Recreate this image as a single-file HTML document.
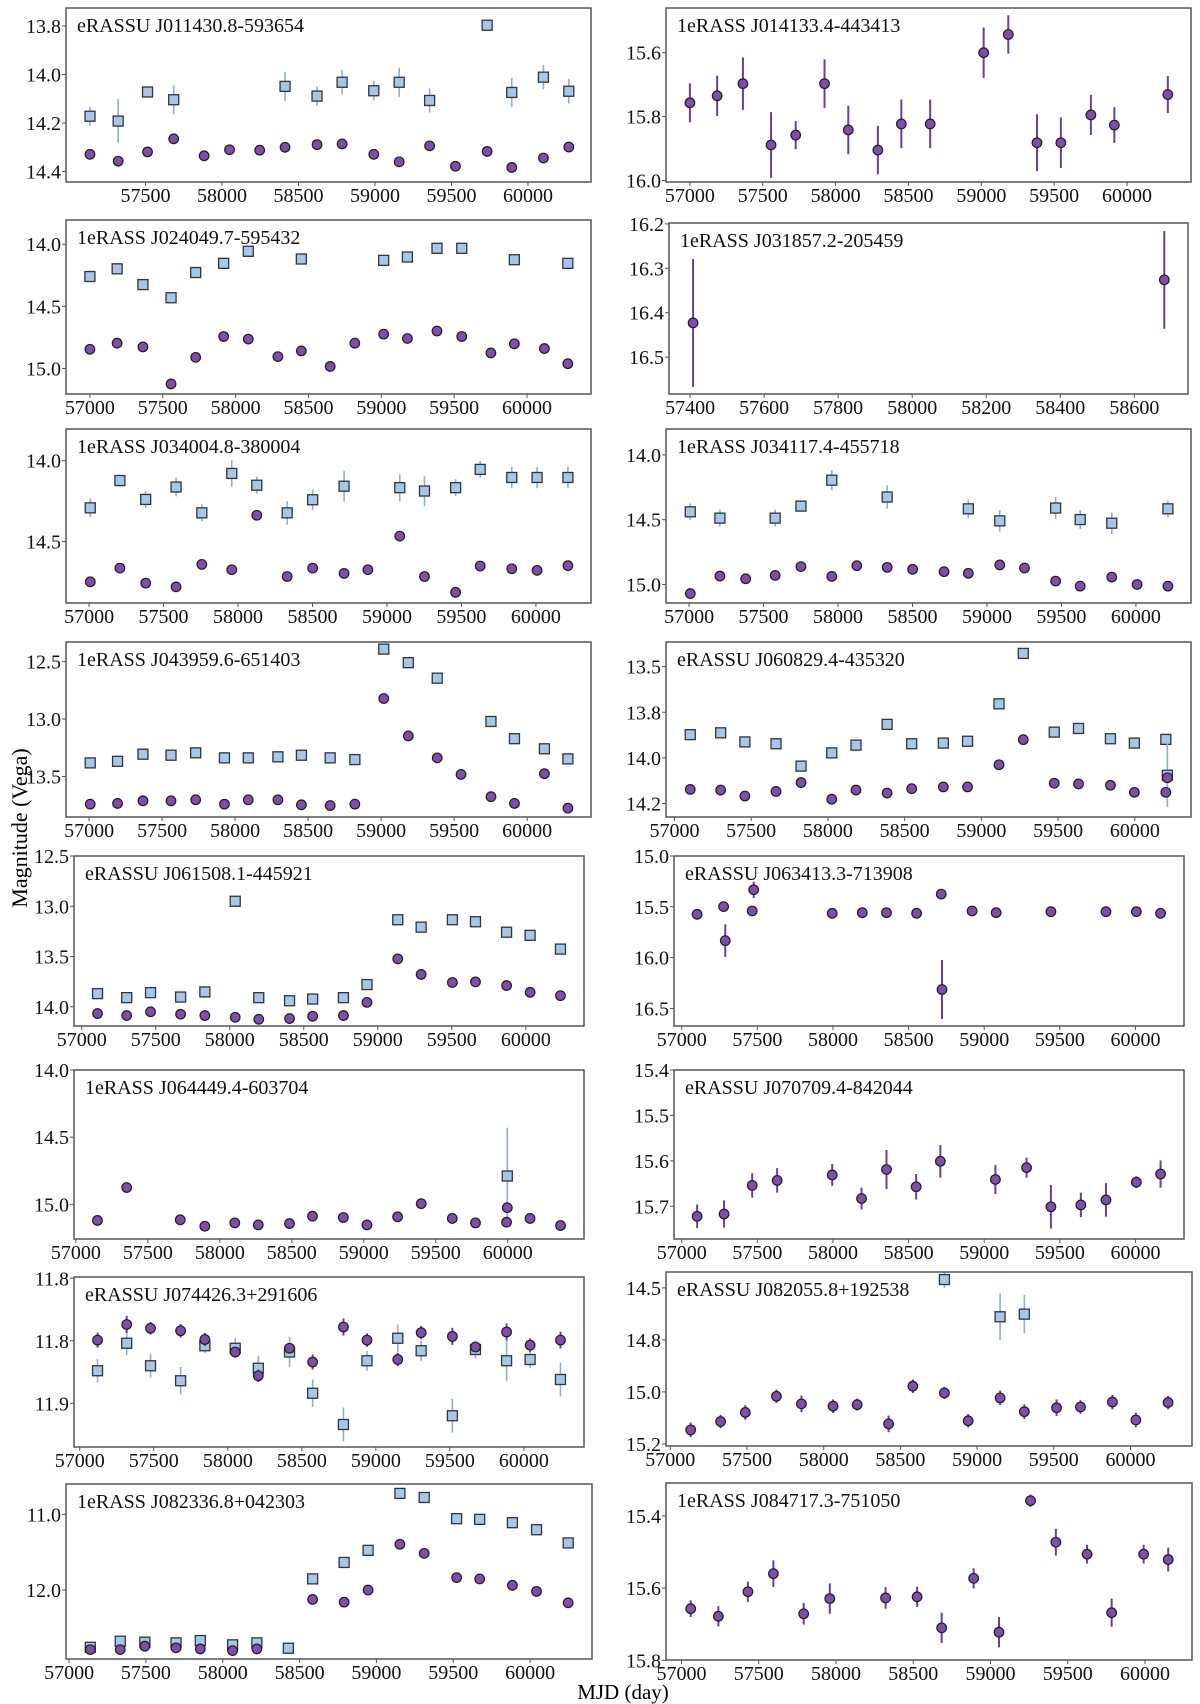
<!DOCTYPE html>
<html><head><meta charset="utf-8">
<style>
html,body{margin:0;padding:0;background:#fff;}
svg{display:block;font-family:"Liberation Serif",serif;}
</style></head>
<body>
<svg id="fig" width="1200" height="1704" viewBox="0 0 1200 1704" xmlns="http://www.w3.org/2000/svg">
<text x="623" y="1699" font-size="21" text-anchor="middle">MJD (day)</text>
<text x="0" y="0" font-size="22" text-anchor="middle" transform="translate(27,828) rotate(-90)">Magnitude (Vega)</text>
</svg>
<script>
// ---- Panel 1 L
const p1_title="eRASSU J011430.8-593654";
const p1_cx=[57137,57321,57513,57684,57883,58049,58246,58412,58621,58785,58992,59158,59357,59526,59733,59894,60101,60267];
const p1_cy=[14.329,14.357,14.319,14.265,14.335,14.310,14.312,14.300,14.289,14.286,14.329,14.360,14.294,14.378,14.317,14.383,14.344,14.299];
const p1_ce=[0.012,0.02,0.012,0.018,0.012,0.012,0.012,0.012,0.012,0.015,0.012,0.015,0.012,0.018,0.012,0.015,0.012,0.015];
const p1_sx=[57137,57321,57513,57684,58412,58621,58785,58992,59158,59357,59733,59894,60101,60267];
const p1_sy=[14.172,14.192,14.072,14.104,14.049,14.089,14.032,14.067,14.032,14.107,13.797,14.074,14.011,14.069];
const p1_se=[0.04,0.09,0.02,0.06,0.06,0.04,0.05,0.04,0.06,0.05,0.02,0.06,0.05,0.05];
const p1_xt=[57500,58000,58500,59000,59500,60000];
const p1_yt=[13.8,14.0,14.2,14.4];
const p1_yl=["13.8","14.0","14.2","14.4"];
// ---- Panel 2 L
const p2_title="1eRASS J024049.7-595432";
const p2_cx=[57000,57187,57364,57557,57726,57918,58087,58290,58451,58649,58818,59016,59179,59382,59552,59752,59913,60119,60280];
const p2_cy=[14.846,14.797,14.827,15.125,14.911,14.743,14.764,14.905,14.859,14.984,14.797,14.724,14.759,14.699,14.743,14.875,14.802,14.840,14.962];
const p2_ce=[0.01,0.01,0.01,0.01,0.01,0.01,0.01,0.01,0.01,0.01,0.01,0.01,0.01,0.01,0.01,0.01,0.01,0.01,0.01];
const p2_sx=[57000,57187,57364,57557,57726,57918,58087,58451,59016,59179,59382,59552,59913,60280];
const p2_sy=[14.260,14.198,14.325,14.431,14.228,14.154,14.057,14.119,14.130,14.103,14.033,14.033,14.125,14.154];
const p2_se=[0.01,0.01,0.01,0.03,0.01,0.01,0.01,0.01,0.01,0.01,0.01,0.01,0.01,0.01];
const p2_xt=[57000,57500,58000,58500,59000,59500,60000];
const p2_yt=[14.0,14.5,15.0];
const p2_yl=["14.0","14.5","15.0"];
// ---- Panel 1 R
const p3_title="1eRASS J014133.4-443413";
const p3_cx=[57000,57187,57364,57557,57726,57924,58087,58290,58451,58649,59016,59185,59382,59546,59752,59913,60280];
const p3_cy=[15.757,15.735,15.697,15.889,15.858,15.697,15.842,15.905,15.823,15.823,15.6,15.543,15.882,15.882,15.795,15.827,15.731];
const p3_ce=[0.061,0.063,0.082,0.103,0.044,0.076,0.076,0.076,0.076,0.076,0.079,0.060,0.089,0.079,0.063,0.056,0.058];
const p3_sx=[],p3_sy=[],p3_se=[];
const p3_xt=[57000,57500,58000,58500,59000,59500,60000];
const p3_yt=[15.6,15.8,16.0];
const p3_yl=["15.6","15.8","16.0"];
// ---- Panel 2 R
const p4_title="1eRASS J031857.2-205459";
const p4_cx=[57408,58681];
const p4_cy=[16.423,16.326];
const p4_ce=[0.144,0.110];
const p4_sx=[],p4_sy=[],p4_se=[];
const p4_xt=[57400,57600,57800,58000,58200,58400,58600];
const p4_yt=[16.2,16.3,16.4,16.5];
const p4_yl=["16.2","16.3","16.4","16.5"];
// ---- Panel 3 L
const p5_title="1eRASS J034004.8-380004";
const p5_cx=[57008,57207,57380,57584,57757,57958,58126,58330,58501,58712,58872,59086,59252,59461,59626,59838,60008,60215];
const p5_cy=[14.750,14.665,14.758,14.781,14.642,14.675,14.338,14.717,14.665,14.698,14.675,14.467,14.717,14.815,14.652,14.669,14.679,14.650];
const p5_ce=[0.012,0.012,0.012,0.012,0.012,0.015,0.012,0.012,0.015,0.02,0.015,0.012,0.025,0.012,0.012,0.012,0.015,0.015];
const p5_sx=[57008,57207,57380,57584,57757,57958,58126,58330,58501,58712,59086,59252,59461,59626,59838,60008,60215];
const p5_sy=[14.292,14.123,14.240,14.163,14.323,14.079,14.152,14.323,14.242,14.158,14.167,14.188,14.167,14.054,14.104,14.104,14.104];
const p5_se=[0.058,0.038,0.052,0.058,0.052,0.083,0.052,0.073,0.063,0.094,0.083,0.094,0.052,0.052,0.067,0.067,0.067];
const p5_xt=[57000,57500,58000,58500,59000,59500,60000];
const p5_yt=[14.0,14.5];
const p5_yl=["14.0","14.5"];
// ---- Panel 4 L
const p6_title="1eRASS J043959.6-651403";
const p6_cx=[57008,57195,57369,57561,57730,57927,58090,58293,58454,58651,58820,59018,59186,59384,59547,59752,59913,60118,60279];
const p6_cy=[13.741,13.735,13.712,13.712,13.703,13.741,13.703,13.703,13.747,13.753,13.741,12.821,13.147,13.338,13.482,13.676,13.735,13.476,13.776];
const p6_ce=[0.01,0.01,0.01,0.01,0.01,0.01,0.01,0.01,0.01,0.01,0.01,0.01,0.01,0.01,0.01,0.01,0.01,0.01,0.01];
const p6_sx=[57008,57195,57369,57561,57730,57927,58090,58293,58454,58651,58820,59018,59186,59384,59752,59913,60118,60279];
const p6_sy=[13.382,13.368,13.306,13.315,13.294,13.338,13.338,13.329,13.315,13.338,13.353,12.391,12.509,12.644,13.021,13.171,13.259,13.347];
const p6_se=[0.01,0.01,0.01,0.01,0.01,0.01,0.01,0.01,0.01,0.01,0.01,0.01,0.01,0.01,0.01,0.01,0.01,0.01];
const p6_xt=[57000,57500,58000,58500,59000,59500,60000];
const p6_yt=[12.5,13.0,13.5];
const p6_yl=["12.5","13.0","13.5"];
// ---- Panel 3 R
const p7_title="1eRASS J034117.4-455718";
const p7_cx=[57008,57207,57380,57578,57751,57958,58126,58330,58501,58712,58875,59086,59252,59461,59626,59838,60008,60215];
const p7_cy=[15.070,14.935,14.956,14.930,14.862,14.938,14.855,14.868,14.883,14.901,14.914,14.849,14.873,14.974,15.013,14.943,15.000,15.013];
const p7_ce=[0.012,0.012,0.012,0.012,0.012,0.012,0.012,0.02,0.012,0.012,0.015,0.015,0.012,0.025,0.012,0.012,0.012,0.012];
const p7_sx=[57008,57207,57578,57751,57958,58330,58875,59086,59461,59626,59838,60215];
const p7_sy=[14.439,14.488,14.488,14.395,14.195,14.325,14.416,14.509,14.410,14.499,14.527,14.416];
const p7_se=[0.065,0.065,0.065,0.04,0.078,0.09,0.073,0.083,0.086,0.073,0.083,0.065];
const p7_xt=[57000,57500,58000,58500,59000,59500,60000];
const p7_yt=[14.0,14.5,15.0];
const p7_yl=["14.0","14.5","15.0"];
// ---- Panel 4 R
const p8_title="eRASSU J060829.4-435320";
const p8_cx=[57103,57301,57459,57662,57825,58025,58183,58386,58546,58752,58910,59115,59273,59475,59633,59841,59997,60202,60212];
const p8_cy=[14.138,14.141,14.167,14.147,14.108,14.181,14.141,14.154,14.135,14.127,14.127,14.030,13.920,14.111,14.114,14.120,14.151,14.151,14.087];
const p8_ce=[0.01,0.01,0.01,0.01,0.012,0.01,0.01,0.01,0.01,0.01,0.01,0.01,0.01,0.01,0.01,0.01,0.01,0.01,0.01];
const p8_sx=[57103,57301,57459,57662,57825,58025,58183,58386,58546,58752,58910,59115,59273,59475,59633,59841,59997,60202,60212];
const p8_sy=[13.898,13.890,13.930,13.938,14.036,13.978,13.944,13.853,13.938,13.935,13.927,13.763,13.542,13.887,13.871,13.916,13.935,13.919,14.076];
const p8_se=[0.012,0.012,0.012,0.012,0.015,0.012,0.012,0.012,0.012,0.02,0.015,0.012,0.012,0.015,0.015,0.015,0.012,0.015,0.14];
const p8_xt=[57000,57500,58000,58500,59000,59500,60000];
const p8_yt=[13.6,13.8,14.0,14.2];
const p8_yl=["13.5","13.8","14.0","14.2"];
// ---- Panel 5 L
const p9_title="eRASSU J061508.1-445921";
const p9_cx=[57107,57304,57465,57668,57832,58037,58196,58404,58560,58768,58927,59135,59293,59504,59660,59870,60029,60234];
const p9_cy=[14.067,14.087,14.050,14.074,14.087,14.104,14.124,14.117,14.094,14.087,13.956,13.523,13.678,13.758,13.752,13.789,13.856,13.889];
const p9_ce=[0.01,0.01,0.01,0.01,0.01,0.01,0.01,0.01,0.01,0.01,0.01,0.01,0.01,0.01,0.01,0.01,0.01,0.01];
const p9_sx=[57107,57304,57465,57668,57832,58037,58196,58404,58560,58768,58927,59135,59293,59504,59660,59870,60029,60234];
const p9_sy=[13.869,13.909,13.859,13.903,13.852,12.950,13.909,13.940,13.923,13.909,13.779,13.134,13.208,13.134,13.154,13.258,13.289,13.426];
const p9_se=[0.01,0.01,0.01,0.01,0.01,0.01,0.01,0.01,0.01,0.01,0.01,0.01,0.01,0.01,0.01,0.01,0.01,0.01];
const p9_xt=[57000,57500,58000,58500,59000,59500,60000];
const p9_yt=[12.5,13.0,13.5,14.0];
const p9_yl=["12.5","13.0","13.5","14.0"];
// ---- Panel 6 L
const p10_title="1eRASS J064449.4-603704";
const p10_cx=[57150,57353,57725,57896,58104,58267,58484,58644,58858,59022,59235,59399,59615,59776,59992,59997,60155,60367];
const p10_cy=[15.120,14.875,15.115,15.163,15.138,15.153,15.143,15.088,15.098,15.153,15.093,14.995,15.105,15.138,15.133,15.025,15.105,15.158];
const p10_ce=[0.01,0.01,0.01,0.01,0.01,0.01,0.01,0.01,0.01,0.01,0.01,0.01,0.01,0.01,0.01,0.01,0.01,0.01];
const p10_sx=[59997];
const p10_sy=[14.789];
const p10_se=[0.36];
const p10_xt=[57000,57500,58000,58500,59000,59500,60000];
const p10_yt=[14.0,14.5,15.0];
const p10_yl=["14.0","14.5","15.0"];
// ---- Panel 5 R
const p11_title="eRASSU J063413.3-713908";
const p11_cx=[57102,57277,57288,57476,57466,57995,58194,58354,58553,58716,58721,58920,59079,59441,59805,60006,60166];
const p11_cy=[15.574,15.498,15.833,15.332,15.541,15.564,15.558,15.558,15.564,15.375,16.314,15.541,15.558,15.548,15.548,15.548,15.564];
const p11_ce=[0.03,0.03,0.16,0.08,0.03,0.03,0.03,0.03,0.03,0.04,0.29,0.03,0.03,0.03,0.03,0.03,0.03];
const p11_sx=[],p11_sy=[],p11_se=[];
const p11_xt=[57000,57500,58000,58500,59000,59500,60000];
const p11_yt=[15.0,15.5,16.0,16.5];
const p11_yl=["15.0","15.5","16.0","16.5"];
// ---- Panel 6 R
const p12_title="eRASSU J070709.4-842044";
const p12_cx=[57102,57280,57466,57631,57995,58189,58354,58550,58710,59074,59280,59441,59639,59805,60006,60166];
const p12_cy=[15.722,15.717,15.654,15.643,15.631,15.683,15.619,15.657,15.601,15.641,15.615,15.701,15.697,15.686,15.647,15.629];
const p12_ce=[0.026,0.030,0.027,0.027,0.024,0.024,0.043,0.028,0.036,0.032,0.022,0.048,0.027,0.037,0.013,0.030];
const p12_sx=[],p12_sy=[],p12_se=[];
const p12_xt=[57000,57500,58000,58500,59000,59500,60000];
const p12_yt=[15.4,15.5,15.6,15.7];
const p12_yl=["15.4","15.5","15.6","15.7"];
// ---- Panel 7 L
const p13_title="eRASSU J074426.3+291606";
const p13_cx=[57120,57317,57478,57681,57845,58050,58206,58417,58573,58781,58940,59148,59306,59517,59673,59883,60042,60247];
const p13_cy=[11.7995,11.787,11.790,11.792,11.799,11.809,11.828,11.806,11.817,11.789,11.7995,11.815,11.7935,11.7965,11.805,11.793,11.8035,11.7995];
const p13_ce=[0.006,0.0068,0.005,0.0054,0.0054,0.0027,0.005,0.004,0.006,0.0068,0.0054,0.0054,0.0054,0.0068,0.0027,0.0068,0.0054,0.0068];
const p13_sx=[57120,57317,57478,57681,57845,58050,58206,58417,58573,58781,58940,59148,59306,59517,59673,59883,60042,60247];
const p13_sy=[11.824,11.802,11.820,11.832,11.804,11.806,11.822,11.809,11.842,11.867,11.816,11.798,11.808,11.860,11.807,11.816,11.815,11.831];
const p13_se=[0.0095,0.0095,0.0095,0.011,0.006,0.008,0.010,0.012,0.011,0.0135,0.008,0.011,0.008,0.0135,0.007,0.016,0.007,0.0135];
const p13_xt=[57000,57500,58000,58500,59000,59500,60000];
const p13_yt=[11.75,11.80,11.85];
const p13_yl=["11.8","11.8","11.9"];
// ---- Panel 8 L
const p14_title="1eRASS J082336.8+042303";
const p14_cx=[57138,57333,57493,57696,57854,58064,58222,58585,58790,58946,59153,59311,59522,59672,59885,60042,60248];
const p14_cy=[12.787,12.787,12.742,12.764,12.778,12.8,12.778,12.124,12.160,12.0,11.396,11.516,11.836,11.853,11.938,12.018,12.169];
const p14_ce=[0.01,0.01,0.01,0.01,0.01,0.01,0.01,0.01,0.01,0.01,0.01,0.01,0.01,0.01,0.01,0.01,0.01];
const p14_sx=[57138,57333,57493,57696,57854,58064,58222,58427,58585,58790,58946,59153,59311,59522,59672,59885,60042,60248];
const p14_sy=[12.756,12.676,12.689,12.698,12.667,12.724,12.698,12.769,11.853,11.636,11.476,10.724,10.778,11.058,11.067,11.111,11.204,11.378];
const p14_se=[0.01,0.01,0.01,0.01,0.01,0.01,0.01,0.01,0.01,0.01,0.01,0.01,0.01,0.01,0.01,0.01,0.01,0.01];
const p14_xt=[57000,57500,58000,58500,59000,59500,60000];
const p14_yt=[11.0,12.0];
const p14_yl=["11.0","12.0"];
// ---- Panel 7 R
const p15_title="eRASSU J082055.8+192538";
const p15_cx=[57133,57328,57489,57692,57855,58061,58218,58423,58581,58787,58942,59150,59308,59518,59674,59882,60035,60245];
const p15_cy=[15.146,15.114,15.079,15.017,15.046,15.055,15.049,15.123,14.978,15.004,15.111,15.023,15.076,15.061,15.058,15.039,15.108,15.041];
const p15_ce=[0.028,0.026,0.028,0.026,0.032,0.026,0.023,0.032,0.026,0.023,0.026,0.028,0.028,0.032,0.026,0.028,0.028,0.026];
const p15_sx=[58787,59150,59308];
const p15_sy=[14.568,14.711,14.701];
const p15_se=[0.032,0.090,0.074];
const p15_xt=[57000,57500,58000,58500,59000,59500,60000];
const p15_yt=[14.6,14.8,15.0,15.2];
const p15_yl=["14.5","14.8","15.0","15.2"];
// ---- Panel 8 R
const p16_title="1eRASS J084717.3-751050";
const p16_cx=[57060,57239,57430,57595,57791,57960,58321,58525,58684,58891,59055,59259,59423,59625,59784,59991,60150];
const p16_cy=[15.657,15.678,15.610,15.560,15.671,15.629,15.627,15.624,15.710,15.573,15.722,15.358,15.473,15.506,15.668,15.506,15.521];
const p16_ce=[0.023,0.028,0.028,0.037,0.030,0.042,0.030,0.028,0.042,0.028,0.042,0.017,0.037,0.026,0.039,0.026,0.033];
const p16_sx=[],p16_sy=[],p16_se=[];
const p16_xt=[57000,57500,58000,58500,59000,59500,60000];
const p16_yt=[15.4,15.6,15.8];
const p16_yl=["15.4","15.6","15.8"];

const panels=[
 {b:[66,8,591,182],xr:[56980,60412],yr:[13.726,14.443],t:p1_title,cx:p1_cx,cy:p1_cy,ce:p1_ce,sx:p1_sx,sy:p1_sy,se:p1_se,xt:p1_xt,yt:p1_yt,yl:p1_yl},
 {b:[666,8,1191,182],xr:[56836,60439],yr:[15.46,16.005],t:p3_title,cx:p3_cx,cy:p3_cy,ce:p3_ce,sx:p3_sx,sy:p3_sy,se:p3_se,xt:p3_xt,yt:p3_yt,yl:p3_yl},
 {b:[66,220,591,394],xr:[56836,60439],yr:[13.805,15.206],t:p2_title,cx:p2_cx,cy:p2_cy,ce:p2_ce,sx:p2_sx,sy:p2_sy,se:p2_se,xt:p2_xt,yt:p2_yt,yl:p2_yl},
 {b:[669,223,1188,394],xr:[57343,58745],yr:[16.198,16.583],t:p4_title,cx:p4_cx,cy:p4_cy,ce:p4_ce,sx:p4_sx,sy:p4_sy,se:p4_se,xt:p4_xt,yt:p4_yt,yl:p4_yl},
 {b:[66,429,591,603],xr:[56845,60370],yr:[13.804,14.881],t:p5_title,cx:p5_cx,cy:p5_cy,ce:p5_ce,sx:p5_sx,sy:p5_sy,se:p5_se,xt:p5_xt,yt:p5_yt,yl:p5_yl},
 {b:[666,429,1191,603],xr:[56845,60370],yr:[13.80,15.143],t:p7_title,cx:p7_cx,cy:p7_cy,ce:p7_ce,sx:p7_sx,sy:p7_sy,se:p7_se,xt:p7_xt,yt:p7_yt,yl:p7_yl},
 {b:[66,642,591,817],xr:[56842,60437],yr:[12.329,13.853],t:p6_title,cx:p6_cx,cy:p6_cy,ce:p6_ce,sx:p6_sx,sy:p6_sy,se:p6_se,xt:p6_xt,yt:p6_yt,yl:p6_yl},
 {b:[666,642,1191,817],xr:[56945,60366],yr:[13.492,14.259],t:p8_title,cx:p8_cx,cy:p8_cy,ce:p8_ce,sx:p8_sx,sy:p8_sy,se:p8_se,xt:p8_xt,yt:p8_yt,yl:p8_yl},
 {b:[74,856,584,1026],xr:[56948,60393],yr:[12.5,14.191],t:p9_title,cx:p9_cx,cy:p9_cy,ce:p9_ce,sx:p9_sx,sy:p9_sy,se:p9_se,xt:p9_xt,yt:p9_yt,yl:p9_yl},
 {b:[674,856,1184,1026],xr:[56949,60321],yr:[15.0,16.673],t:p11_title,cx:p11_cx,cy:p11_cy,ce:p11_ce,sx:p11_sx,sy:p11_sy,se:p11_se,xt:p11_xt,yt:p11_yt,yl:p11_yl},
 {b:[74,1070,584,1239],xr:[56987,60530],yr:[14.0,15.258],t:p10_title,cx:p10_cx,cy:p10_cy,ce:p10_ce,sx:p10_sx,sy:p10_sy,se:p10_se,xt:p10_xt,yt:p10_yt,yl:p10_yl},
 {b:[674,1070,1184,1239],xr:[56949,60321],yr:[15.4,15.772],t:p12_title,cx:p12_cx,cy:p12_cy,ce:p12_ce,sx:p12_sx,sy:p12_sy,se:p12_se,xt:p12_xt,yt:p12_yt,yl:p12_yl},
 {b:[74,1277,584,1447],xr:[56961,60406],yr:[11.749,11.885],t:p13_title,cx:p13_cx,cy:p13_cy,ce:p13_ce,sx:p13_sx,sy:p13_sy,se:p13_se,xt:p13_xt,yt:p13_yt,yl:p13_yl},
 {b:[666,1272,1192,1446],xr:[56972,60401],yr:[14.539,15.208],t:p15_title,cx:p15_cx,cy:p15_cy,ce:p15_ce,sx:p15_sx,sy:p15_sy,se:p15_se,xt:p15_xt,yt:p15_yt,yl:p15_yl},
 {b:[66,1484,592,1659],xr:[56980,60403],yr:[10.6,12.911],t:p14_title,cx:p14_cx,cy:p14_cy,ce:p14_ce,sx:p14_sx,sy:p14_sy,se:p14_se,xt:p14_xt,yt:p14_yt,yl:p14_yl},
 {b:[666,1483,1192,1660],xr:[56900,60304],yr:[15.309,15.799],t:p16_title,cx:p16_cx,cy:p16_cy,ce:p16_ce,sx:p16_sx,sy:p16_sy,se:p16_se,xt:p16_xt,yt:p16_yt,yl:p16_yl}
];

const NS="http://www.w3.org/2000/svg";
const svg=document.getElementById('fig');
function mk(tag,attrs,parent){const e=document.createElementNS(NS,tag);for(const k in attrs)e.setAttribute(k,attrs[k]);parent.appendChild(e);return e;}

panels.forEach((p,i)=>{
  const [x0,y0,x1,y1]=p.b;
  const X=v=>x0+(v-p.xr[0])/(p.xr[1]-p.xr[0])*(x1-x0);
  const Y=v=>y0+(v-p.yr[0])/(p.yr[1]-p.yr[0])*(y1-y0);
  const g=mk('g',{},svg);
  
  
  const clipId='clip'+i;
  const cp=mk('clipPath',{id:clipId},g);
  mk('rect',{x:x0,y:y0,width:x1-x0,height:y1-y0},cp);
  p.xt.forEach(v=>{
    const x=X(v);
    const tk=mk('line',{x1:x,x2:x,y1:y1,y2:y1+4,stroke:'#555','stroke-width':1},g);
    
    
    const t=mk('text',{x:x,y:y1+20,'font-size':20,'text-anchor':'middle',fill:'#111'},g);
    
    
    t.textContent=String(v);
  });
  p.yt.forEach((v,j)=>{
    const y=Y(v);
    const tk=mk('line',{x1:x0-4,x2:x0,y1:y,y2:y,stroke:'#555','stroke-width':1},g);
    
    
    const t=mk('text',{x:x0-5,y:y+7,'font-size':20,'text-anchor':'end',fill:'#111'},g);
    
    
    t.textContent=p.yl[j];
  });
  const marks=mk('g',{'clip-path':'url(#'+clipId+')'},g);
  
  
  p.sx.forEach((v,j)=>{
    const x=X(v),y=Y(p.sy[j]),e=Math.abs(Y(p.sy[j]+p.se[j])-y);
    const l=mk('line',{x1:x,x2:x,y1:y-e,y2:y+e,stroke:'#8eaed0','stroke-width':1.6},marks);
    
    
    const r=mk('rect',{x:x-5,y:y-5,width:10,height:10,fill:'#a8c6e6',stroke:'#2e3440','stroke-width':1.3},marks);
    
    
  });
  p.cx.forEach((v,j)=>{
    const x=X(v),y=Y(p.cy[j]),e=Math.abs(Y(p.cy[j]+p.ce[j])-y);
    const l=mk('line',{x1:x,x2:x,y1:y-e,y2:y+e,stroke:'#6b3f99','stroke-width':2},marks);
    
    
    const c=mk('circle',{cx:x,cy:y,r:4.8,fill:'#7d50a8',stroke:'#24182e','stroke-width':1.2},marks);
    
    
  });
  const box=mk('rect',{x:x0,y:y0,width:x1-x0,height:y1-y0,fill:'none',stroke:'#555','stroke-width':1.5},g);
  
  
  const tt=mk('text',{x:x0+11,y:y0+24,'font-size':20,fill:'#111'},g);
  
  
  tt.textContent=p.t;
});
</script>
</body></html>
